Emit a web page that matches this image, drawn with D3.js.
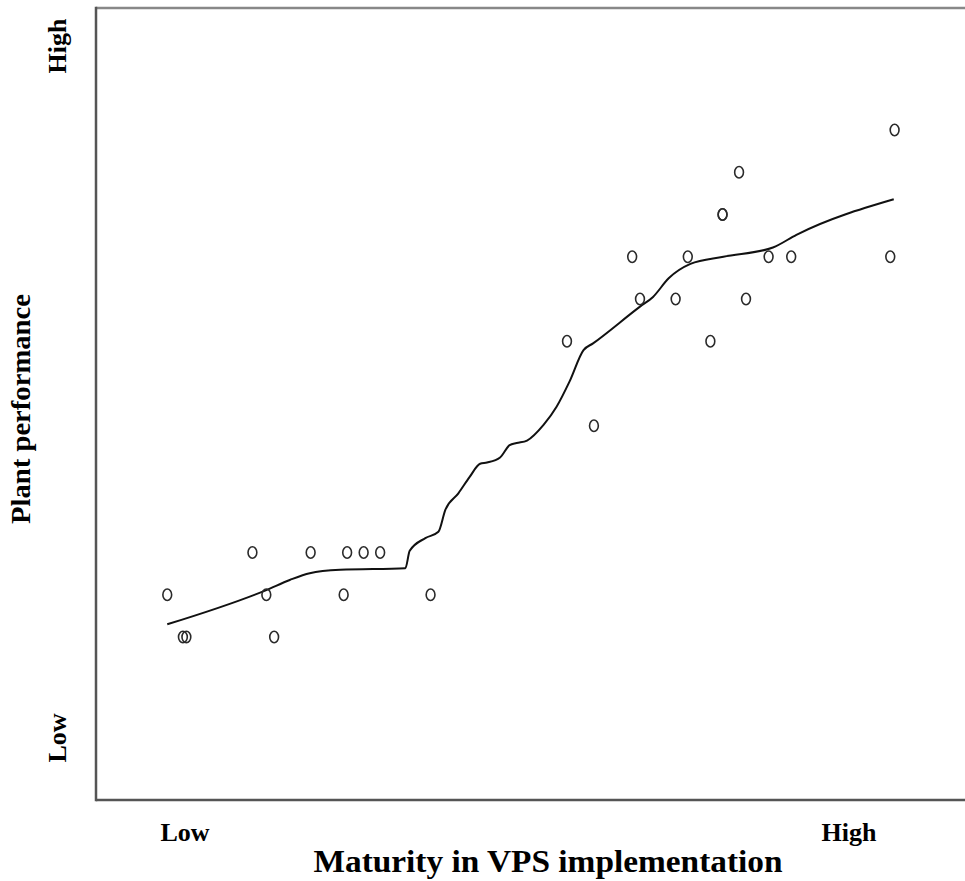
<!DOCTYPE html>
<html>
<head>
<meta charset="utf-8">
<script src="https://cdn.jsdelivr.net/npm/d3@7/dist/d3.min.js"></script>
<style>
  html, body { margin: 0; padding: 0; background: #fff; }
  svg { display: block; }
  text { font-family: "Liberation Serif", "Times New Roman", serif; font-weight: bold; fill: #000; }
</style>
</head>
<body>
<div id="chart"></div>
<script>
// Maturity in VPS implementation (x) and plant performance level (y) for each plant
const maturity = [0.82, 1.00, 1.04, 1.80, 1.96, 2.05, 2.47, 2.85, 2.89, 3.08, 3.27, 3.85,
                  5.42, 5.73, 6.17, 6.26, 6.67, 6.81, 7.07, 7.21, 7.21, 7.40, 7.48, 7.74, 8.00, 9.14, 9.19];
const performance = [1, 0, 0, 2, 1, 0, 2, 1, 2, 2, 2, 1,
                     7, 5, 9, 8, 8, 9, 7, 10, 10, 11, 8, 9, 9, 9, 12];

// Fit line (loess-style smoother)
const fitX = [0.82, 1.96, 2.23, 2.46, 2.81, 3.56, 3.61, 3.79, 3.94, 4.02, 4.17, 4.30, 4.42, 4.50,
              4.65, 4.76, 4.84, 4.96, 5.15, 5.30, 5.45, 5.61, 5.72, 6.26, 6.41, 6.59,
              6.84, 7.22, 7.79, 8.06, 9.18];
const fitY = [0.30, 1.11, 1.35, 1.51, 1.59, 1.63, 2.04, 2.34, 2.49, 3.01, 3.40, 3.79, 4.10, 4.13,
              4.25, 4.54, 4.59, 4.65, 5.02, 5.45, 6.05, 6.79, 6.95, 7.82, 8.05, 8.49,
              8.83, 9.00, 9.22, 9.52, 10.36];

const xTicks = ["Low", "High"];
const yTicks = ["Low", "High"];
const xTitle = "Maturity in VPS implementation";
const yTitle = "Plant performance";

const W = 965, H = 881;
const svg = d3.select("#chart").append("svg").attr("width", W).attr("height", H);

const frame = { left: 96, top: 8, right: 965, bottom: 800 };
const x = d3.scaleLinear().domain([0, 10]).range([96, 965]);
const y = d3.scaleLinear().domain([-3.858, 14.888]).range([800, 8]);

// frame: left, top, bottom lines
svg.append("line").attr("x1", frame.left).attr("x2", frame.right).attr("y1", frame.top).attr("y2", frame.top)
  .attr("stroke", "#888").attr("stroke-width", 2.5);
svg.append("line").attr("x1", frame.left).attr("x2", frame.right).attr("y1", frame.bottom).attr("y2", frame.bottom)
  .attr("stroke", "#555").attr("stroke-width", 2.5);
svg.append("line").attr("x1", frame.left).attr("x2", frame.left).attr("y1", frame.top - 1.25).attr("y2", frame.bottom + 1.25)
  .attr("stroke", "#555").attr("stroke-width", 2.5);

// fit line
const line = d3.line().x(d => x(d[0])).y(d => y(d[1])).curve(d3.curveMonotoneX);
svg.append("path")
  .datum(fitX.map((v, i) => [v, fitY[i]]))
  .attr("d", line)
  .attr("fill", "none").attr("stroke", "#111").attr("stroke-width", 2);

// points
svg.append("g").selectAll("ellipse")
  .data(maturity.map((v, i) => [v, performance[i]]))
  .join("ellipse")
  .attr("cx", d => x(d[0])).attr("cy", d => y(d[1]))
  .attr("rx", 4.4).attr("ry", 5.7)
  .attr("fill", "none").attr("stroke", "#2a2a2a").attr("stroke-width", 1.6);

// x labels
const xLabelPos = [185, 849];
svg.selectAll(".xt").data(xTicks).join("text").attr("class", "xt")
  .attr("x", (d, i) => xLabelPos[i]).attr("y", 841)
  .attr("text-anchor", "middle").attr("font-size", 26).text(d => d);
svg.append("text").attr("x", 548).attr("y", 872).attr("text-anchor", "middle")
  .attr("font-size", 31).attr("textLength", 469).attr("lengthAdjust", "spacingAndGlyphs")
  .text(xTitle);

// y labels
const yLabelPos = [738, 46];
svg.selectAll(".yt").data(yTicks).join("text").attr("class", "yt")
  .attr("transform", (d, i) => `translate(66,${yLabelPos[i]}) rotate(-90)`)
  .attr("text-anchor", "middle").attr("font-size", 26).text(d => d);
svg.append("text").attr("transform", "translate(30,409) rotate(-90)")
  .attr("text-anchor", "middle").attr("font-size", 27)
  .attr("textLength", 230).attr("lengthAdjust", "spacingAndGlyphs").text(yTitle);
</script>
</body>
</html>
